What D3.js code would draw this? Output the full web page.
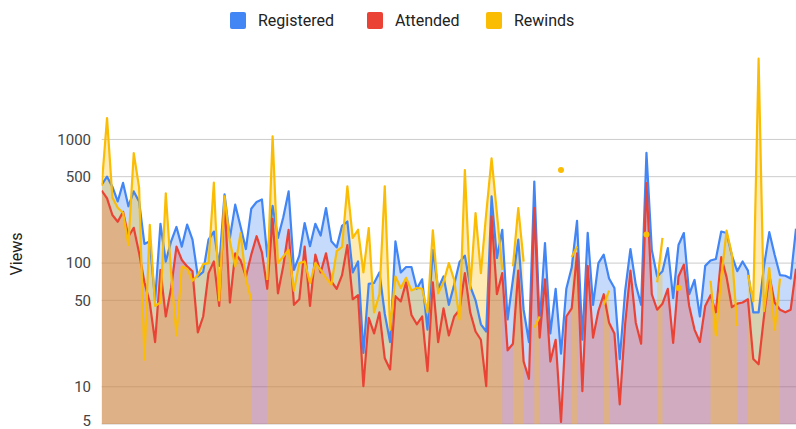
<!DOCTYPE html>
<html>
<head>
<meta charset="utf-8">
<script src="https://cdn.jsdelivr.net/npm/d3@7"></script>
<style>
  html, body { margin: 0; padding: 0; background: #fff; }
  svg { display: block; font-family: Roboto, Arial, sans-serif; }
</style>
</head>
<body>
<div id="chart"></div>
<script>
const seriesNames = ['Registered', 'Attended', 'Rewinds'];
const seriesColors = ['#4285f4', '#ea4335', '#fbbc04'];
const yTicks = [5, 10, 50, 100, 500, 1000];

const registered = [
  430, 500, 415, 315, 445, 288, 380, 315, 143, 150,
  50, 208, 103, 150, 196, 136, 205, 155, 78, 85,
  155, 180, 95, 359, 160, 297, 198, 130, 275, 312,
  327, 113, 290, 160, 235, 380, 88, 115, 211, 137,
  208, 167, 279, 150, 134, 200, 217, 84, 103, 18.8,
  68, 69, 84, 39, 23, 150, 84, 93, 93, 62,
  74, 29, 128, 62, 78, 46, 67, 102, 115, 65,
  50, 32, 28, 346, 110, 186, 35, 74, 155, 42,
  23, 457, 32, 145, 27, 62, 18.5, 62, 92, 220,
  24, 176, 46, 100, 117, 75, 63, 16.7, 59, 130,
  67, 46, 780, 128, 78, 86, 132, 52, 140, 175,
  56, 73, 37, 95, 105, 108, 180, 175, 115, 86,
  103, 87, 40, 40, 94, 178, 117, 80, 79, 75,
  190
];

const attended = [
  385, 334, 245, 216, 260, 164, 193, 121, 70, 48,
  23, 88, 37, 63, 136, 106, 94, 86, 27.5, 37,
  83, 103, 45, 325, 48, 120, 105, 78, 117, 165,
  122, 62, 228, 57, 95, 186, 46, 51, 136, 45,
  117, 84, 120, 71, 62, 80, 140, 51, 55, 10.1,
  36, 27, 40, 17, 13.8, 54, 49, 70, 38, 32,
  37, 13.4, 70, 23, 43, 26, 37, 42, 83, 40,
  28, 24, 10.1, 239, 56, 83, 19.7, 22.3, 87, 16,
  11.6, 279, 25, 74, 16, 24, 5.2, 37, 43, 120,
  9.2, 95, 25, 41, 56, 33, 27, 7.2, 32, 87,
  33, 22.3, 444, 56, 42, 47, 62, 22.6, 78, 97,
  45, 29, 23, 45, 55, 40, 112, 77, 44, 47,
  48, 51, 16.8, 15.2, 37, 80, 48, 42, 40, 42,
  90
];

// null = no rewinds recorded for that session
const rewinds = [
  420, 1490, 340, 280, 255, 140, 775, 410, 16.6, 204,
  45, 48, 367, 83, 26, 94, 90, 72, 80, 98,
  100, 447, 50, 346, 150, 94, 175, 75, 50, null,
  null, 73, 1060, 100, 113, 128, 60, 100, 103, 69,
  100, 88, 76, 67, 125, 135, 418, 160, 186, 84,
  192, 40, 56, 418, 29, 78, 63, 76, 60, 63,
  62, 40, 184, 57, 70, 100, 73, 35, 566, 62,
  254, 83, 253, 703, 253, 88, null, 94, 279, 103,
  null, 30, 37, null, null, null, 565, null, 112, 136,
  null, null, null, null, 46, 60, null, null, null, null,
  null, null, 170, null, 70, 160, null, null, 63, null,
  null, null, null, null, 72, 26, 76, 183, 117, 31,
  null, 80, 49, 4500, 41, 91, 29, 75, null, null,
  null
];

const width = 796;
const height = 429;
const plot = {left: 101.7, right: 796, top: 53, bottom: 424};

const svg = d3.select('#chart').append('svg')
    .attr('width', width)
    .attr('height', height);

const x = d3.scaleLinear()
    .domain([0, registered.length - 1])
    .range([plot.left, plot.right]);

const y = d3.scaleLog()
    .domain([5, 5000])
    .range([plot.bottom, plot.top]);

// Gridlines
svg.append('g')
    .selectAll('line')
    .data(yTicks)
    .enter().append('line')
    .attr('x1', plot.left)
    .attr('x2', plot.right)
    .attr('y1', d => y(d))
    .attr('y2', d => y(d))
    .attr('stroke', '#cccccc')
    .attr('stroke-width', 1);

// Tick labels (bottom one nudged up so it stays inside the frame)
svg.append('g')
    .selectAll('text')
    .data(yTicks)
    .enter().append('text')
    .attr('x', 91)
    .attr('y', d => Math.min(y(d), height - 8))
    .attr('dy', '0.35em')
    .attr('text-anchor', 'end')
    .attr('font-size', 15)
    .attr('fill', '#444')
    .text(d => d);

svg.append('text')
    .attr('transform', 'translate(22,254) rotate(-90)')
    .attr('text-anchor', 'middle')
    .attr('font-size', 16)
    .attr('fill', '#222')
    .text('Views');

const series = [registered, attended, rewinds];

const defs = svg.append('defs');
defs.append('clipPath').attr('id', 'plot-clip')
  .append('rect')
    .attr('x', plot.left)
    .attr('y', plot.top - 10)
    .attr('width', plot.right - plot.left)
    .attr('height', plot.bottom - plot.top + 10);

const area = d3.area()
    .defined(d => d != null)
    .x((d, i) => x(i))
    .y0(plot.bottom)
    .y1(d => y(d));

const line = d3.line()
    .defined(d => d != null)
    .x((d, i) => x(i))
    .y(d => y(d));

const chartG = svg.append('g').attr('clip-path', 'url(#plot-clip)');

// Areas first, lines on top
series.forEach((values, s) => {
    chartG.append('path')
        .datum(values)
        .attr('d', area)
        .attr('fill', seriesColors[s])
        .attr('fill-opacity', 0.3);
});

series.forEach((values, s) => {
    chartG.append('path')
        .datum(values)
        .attr('d', line)
        .attr('fill', 'none')
        .attr('stroke', seriesColors[s])
        .attr('stroke-width', 2.2)
        .attr('stroke-linejoin', 'round');

    // isolated points get a dot, the way the sheet draws them
    const lonely = values
        .map((v, i) => ({v, i}))
        .filter(d => d.v != null && values[d.i - 1] == null && values[d.i + 1] == null);
    chartG.selectAll(null)
        .data(lonely)
        .enter().append('circle')
        .attr('cx', d => x(d.i))
        .attr('cy', d => y(d.v))
        .attr('r', 3)
        .attr('fill', seriesColors[s]);
});

// Legend
const legendX = [230, 367, 486];
const legend = svg.append('g')
    .selectAll('g')
    .data(seriesNames)
    .enter().append('g')
    .attr('transform', (d, i) => `translate(${legendX[i]},12)`);

legend.append('rect')
    .attr('width', 16)
    .attr('height', 17)
    .attr('rx', 2)
    .attr('fill', (d, i) => seriesColors[i]);

legend.append('text')
    .attr('x', 28)
    .attr('y', 8.5)
    .attr('dy', '0.36em')
    .attr('font-size', 16)
    .attr('fill', '#222')
    .text(d => d);
</script>
</body>
</html>
